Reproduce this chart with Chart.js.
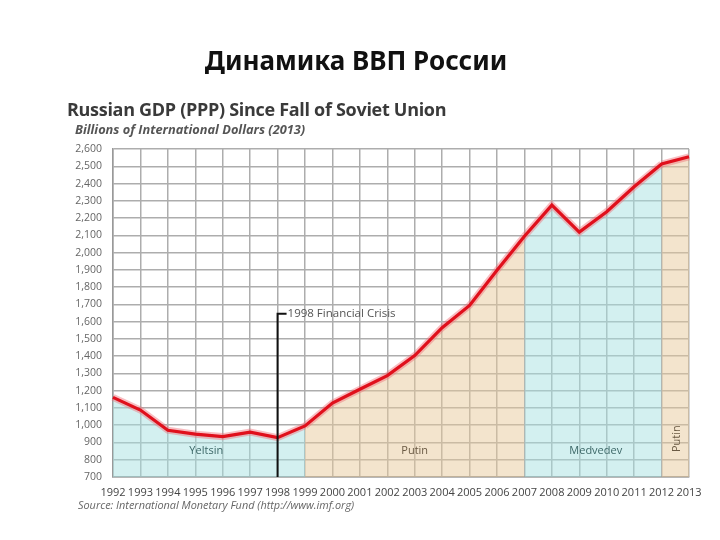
<!DOCTYPE html>
<html>
<head>
<meta charset="utf-8">
<script src="https://cdn.jsdelivr.net/npm/chart.js@4.4.1/dist/chart.umd.min.js"></script>
<style>
  html, body { margin: 0; padding: 0; background: #fff; }
  #wrap { position: relative; width: 720px; height: 540px; }
  #myChart { position: absolute; left: 0; top: 0; }
  .txt { position: absolute; white-space: nowrap; }
  #slideTitle { left: 0; width: 712px; top: 42px; text-align: center; font: bold 26px "Noto Sans", sans-serif; color: #111; }
  #chartTitle { left: 67px; top: 97px; font: bold 18px "Open Sans", sans-serif; color: #3a3a3a; letter-spacing: -0.3px; }
  #units { left: 75px; top: 120px; font: italic bold 12.8px "Open Sans", sans-serif; color: #555; }
  #source { left: 78px; top: 497px; font: italic 10.9px "Open Sans", sans-serif; color: #666; }
</style>
</head>
<body>
<div id="wrap">
  <canvas id="myChart" width="720" height="540"></canvas>
  <div class="txt" id="slideTitle">Динамика ВВП России</div>
  <div class="txt" id="chartTitle">Russian GDP (PPP) Since Fall of Soviet Union</div>
  <div class="txt" id="units">Billions of International Dollars (2013)</div>
  <div class="txt" id="source">Source: International Monetary Fund (http://www.imf.org)</div>
</div>
<script>
// years on the x axis
const years = ['1992','1993','1994','1995','1996','1997','1998','1999','2000','2001','2002',
  '2003','2004','2005','2006','2007','2008','2009','2010','2011','2012','2013'];

// GDP (PPP), billions of international dollars (2013)
const gdp = [1161, 1088, 971, 948, 934, 960, 928, 996, 1128, 1208, 1287,
  1403, 1565, 1694, 1898, 2095, 2275, 2119, 2237, 2381, 2513, 2555];

// who was president for each segment (from year i to year i+1)
const terms = ['Yeltsin','Yeltsin','Yeltsin','Yeltsin','Yeltsin','Yeltsin','Yeltsin',
  'Putin','Putin','Putin','Putin','Putin','Putin','Putin','Putin',
  'Medvedev','Medvedev','Medvedev','Medvedev','Medvedev','Putin'];

// label for each term: [text, x position in years, y value, rotated]
const termLabels = [
  ['Yeltsin', 1995.4, 852, false],
  ['Putin', 2003.0, 852, false],
  ['Medvedev', 2009.6, 852, false],
  ['Putin', 2012.55, 922, true]
];

const crisisYear = '1998';
const crisisTop = 1645;
const crisisText = '1998 Financial Crisis';

const yMin = 700, yMax = 2600, yStep = 100;

const cyan = 'rgba(168, 226, 226, 0.5)';
const beige = 'rgba(232, 202, 156, 0.5)';

function termColor(ctx) {
  return terms[ctx.p0DataIndex] === 'Medvedev' || terms[ctx.p0DataIndex] === 'Yeltsin' ? cyan : beige;
}

// draws the crisis marker and the term names
const notes = {
  id: 'notes',
  afterDatasetsDraw(chart) {
    const c = chart.ctx, x = chart.scales.x, y = chart.scales.y;
    const xs = x.getPixelForValue(years.indexOf(crisisYear));
    const yt = y.getPixelForValue(crisisTop);
    c.save();
    c.strokeStyle = '#111';
    c.lineWidth = 2;
    c.beginPath();
    c.moveTo(xs, chart.chartArea.bottom);
    c.lineTo(xs, yt);
    c.lineTo(xs + 9, yt);
    c.stroke();
    c.fillStyle = '#555';
    c.font = '11.5px "Open Sans", sans-serif';
    c.textBaseline = 'middle';
    c.fillText(crisisText, xs + 10, yt);

    c.font = '11px "Open Sans", sans-serif';
    termLabels.forEach(([t, yr, v, rot]) => {
      const px = x.getPixelForValue(yr - 1992);
      const py = y.getPixelForValue(v);
      c.fillStyle = t === 'Putin' ? '#6a5a44' : '#3d6868';
      c.textAlign = 'center';
      c.save();
      c.translate(px, py);
      if (rot) c.rotate(-Math.PI / 2);
      c.fillText(t, 0, 0);
      c.restore();
    });
    c.restore();
  }
};

const data = {
  labels: years,
  datasets: [{
    // main red line
    label: 'GDP',
    data: gdp,
    borderColor: '#e0101c',
    borderWidth: 3.2,
    pointRadius: 0,
    tension: 0,
    fill: false,
    order: 0
  }, {
    // soft halo under the red line, also carries the term fills
    label: 'halo',
    data: gdp,
    borderColor: 'rgba(240, 110, 120, 0.45)',
    borderWidth: 7,
    pointRadius: 0,
    tension: 0,
    fill: 'start',
    backgroundColor: cyan,
    segment: { backgroundColor: termColor },
    order: 1
  }]
};

const config = {
  type: 'line',
  data,
  options: {
    responsive: false,
    animation: false,
    layout: { padding: { top: 149, right: 31, left: 0, bottom: 0 } },
    plugins: { legend: { display: false }, tooltip: { enabled: false } },
    scales: {
      x: {
        offset: false,
        grid: { color: '#adadad', lineWidth: 1.5, drawTicks: false },
        border: { color: '#999', width: 1.5 },
        ticks: {
          autoSkip: false, maxRotation: 0, padding: 9,
          color: '#444', font: { family: 'Open Sans', size: 11 }
        },
        afterFit(s) { s.height = 63; }
      },
      y: {
        min: yMin, max: yMax,
        grid: { color: '#adadad', lineWidth: 1.5, drawTicks: false },
        border: { color: '#999', width: 1.5 },
        ticks: {
          stepSize: yStep, padding: 11,
          color: '#666', font: { family: 'Open Sans', size: 10.5 },
          callback: v => v.toLocaleString('en-US')
        },
        afterFit(s) { s.width = 113; }
      }
    }
  },
  plugins: [notes]
};

var myChart = new Chart(document.getElementById('myChart'), config);
</script>
</body>
</html>
